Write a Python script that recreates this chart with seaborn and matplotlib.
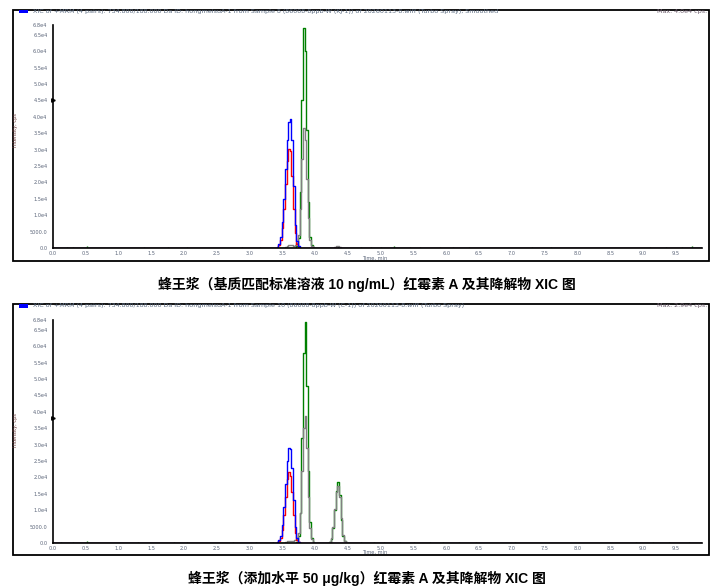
import matplotlib
matplotlib.use("Agg")
import matplotlib.pyplot as plt
from matplotlib.patches import Rectangle
from matplotlib.ticker import FixedLocator, MultipleLocator
import pandas as pd
import seaborn as sns

OUTPUT_FILE = "out.png"
T_END = 9.9
Y_MAX = 68000

X_TICKS = [0.0, 0.5, 1.0, 1.5, 2.0, 2.5, 3.0, 3.5, 4.0, 4.5,
           5.0, 5.5, 6.0, 6.5, 7.0, 7.5, 8.0, 8.5, 9.0, 9.5]
X_TICK_LABELS = ["0.0", "0.5", "1.0", "1.5", "2.0", "2.5", "3.0", "3.5", "4.0", "4.5",
                 "5.0", "5.5", "6.0", "6.5", "7.0", "7.5", "8.0", "8.5", "9.0", "9.5"]
Y_TICKS = [0, 5000, 10000, 15000, 20000, 25000, 30000, 35000, 40000,
           45000, 50000, 55000, 60000, 65000, 68000]
Y_TICK_LABELS = ["0.0", "5000.0", "1.0e4", "1.5e4", "2.0e4", "2.5e4", "3.0e4", "3.5e4",
                 "4.0e4", "4.5e4", "5.0e4", "5.5e4", "6.0e4", "6.5e4", "6.8e4"]

# ---- panel 1: matrix-matched standard 10 ng/mL ----
TOP_BLUE_T = [3.40, 3.425, 3.45, 3.475, 3.50, 3.525, 3.55, 3.575, 3.60, 3.625,
              3.65, 3.675, 3.70, 3.725, 3.75, 3.775, 3.80]
TOP_BLUE_I = [0, 300, 1200, 3500, 8000, 15000, 24000, 33000, 38500, 39400,
              33000, 19000, 7000, 2000, 500, 100, 0]
TOP_RED_T = [3.40, 3.425, 3.45, 3.475, 3.50, 3.525, 3.55, 3.575, 3.60, 3.625,
             3.65, 3.675, 3.70, 3.725, 3.75, 3.775]
TOP_RED_I = [0, 200, 800, 2500, 6000, 12000, 19500, 26500, 30300, 29500,
             22000, 12000, 4500, 1200, 300, 0]
TOP_GREEN_T = [3.70, 3.725, 3.75, 3.775, 3.80, 3.825, 3.85, 3.875, 3.90, 3.925,
               3.95, 3.975, 4.00]
TOP_GREEN_I = [0, 500, 3000, 17000, 45000, 67000, 60000, 36000, 14000, 3500,
               800, 200, 0]
TOP_GRAY_T = [3.525, 3.55, 3.575, 3.60, 3.625, 3.65, 3.675, 3.70, 3.725, 3.75,
              3.775, 3.80, 3.825, 3.85, 3.875, 3.90, 3.925, 3.95, 3.975, 4.00,
              4.275, 4.30, 4.325, 4.35, 4.375, 4.40]
TOP_GRAY_I = [0, 300, 600, 800, 900, 800, 700, 900, 1500, 4000,
              12000, 27000, 36700, 33000, 21000, 9000, 2500, 700, 200, 0,
              0, 300, 600, 500, 200, 0]
TOP_NOISE_T = [0.22, 0.31, 0.52, 1.39, 1.75, 2.05, 2.89, 3.15, 4.35, 4.7, 4.85,
               5.0, 5.2, 5.45, 5.6, 5.9, 6.1, 6.35, 7.3, 7.6, 9.1, 9.35, 9.6, 9.75]
TOP_NOISE_I = [400, 300, 500, 300, 400, 300, 400, 300, 700, 300, 400,
               300, 500, 300, 400, 300, 400, 300, 300, 400, 300, 400, 300, 500]
TOP_MARK_Y = 45000

# ---- panel 2: spiked 50 ug/kg ----
BOT_BLUE_T = [3.40, 3.425, 3.45, 3.475, 3.50, 3.525, 3.55, 3.575, 3.60, 3.625,
              3.65, 3.675, 3.70, 3.725, 3.75, 3.775]
BOT_BLUE_I = [0, 200, 800, 2200, 5500, 11000, 18000, 25000, 29100, 28800,
              23000, 13000, 5000, 1500, 400, 0]
BOT_RED_T = [3.40, 3.425, 3.45, 3.475, 3.50, 3.525, 3.55, 3.575, 3.60, 3.625,
             3.65, 3.675, 3.70, 3.725, 3.75, 3.775]
BOT_RED_I = [0, 100, 500, 1500, 4000, 8500, 14000, 19500, 21500, 20500,
             15500, 8500, 3200, 900, 200, 0]
BOT_GREEN_T = [3.70, 3.725, 3.75, 3.775, 3.80, 3.825, 3.85, 3.875, 3.90, 3.925,
               3.95, 3.975, 4.00,
               4.20, 4.225, 4.25, 4.275, 4.30, 4.325, 4.35, 4.375, 4.40, 4.425,
               4.45, 4.475]
BOT_GREEN_I = [0, 300, 2000, 9000, 32000, 58000, 67300, 48000, 22000, 6500,
               1500, 300, 0,
               0, 200, 1200, 4500, 10000, 16000, 18500, 14500, 7000, 2200,
               500, 0]
BOT_GRAY_T = [3.525, 3.55, 3.60, 3.65, 3.70, 3.725, 3.75, 3.775, 3.80, 3.825,
              3.85, 3.875, 3.90, 3.925, 3.95, 3.975, 4.00,
              4.20, 4.225, 4.25, 4.275, 4.30, 4.325, 4.35, 4.375, 4.40, 4.425,
              4.45, 4.475, 4.50]
BOT_GRAY_I = [0, 200, 500, 700, 800, 1200, 3000, 9000, 22000, 35000,
              38800, 29000, 14000, 4500, 1200, 300, 0,
              0, 300, 1500, 5000, 10500, 15500, 17500, 14000, 7500, 2500,
              600, 100, 0]
BOT_NOISE_T = [0.12, 0.3, 0.52, 1.3, 1.85, 2.05, 2.75, 3.1, 3.35, 4.7, 4.9,
               5.05, 5.3, 5.5, 5.75, 5.95, 6.2, 6.45, 7.05, 8.9, 9.15, 9.4, 9.7]
BOT_NOISE_I = [400, 300, 500, 300, 300, 400, 300, 400, 300, 300, 400,
               300, 400, 300, 300, 400, 300, 300, 300, 300, 400, 300, 400]
BOT_MARK_Y = 38000

COLORS = {"gray": "#808080", "green": "#008000", "red": "#ff0000", "blue": "#0000ff"}
ORDER = ["green", "gray", "red", "blue"]

HEAD_1 = ("XIC of +MRM (4 pairs): 734.800/188.000 Da ID: hongmeisuA-1 from Sample 8 "
          "(86008-8ppb-W (KJ-1)) of 20260113-8.wiff (Turbo Spray), Smoothed")
HEAD_2 = ("XIC of +MRM (4 pairs): 734.800/188.000 Da ID: hongmeisuA-1 from Sample 10 "
          "(86008-8ppb-W (C-1)) of 20260113-8.wiff (Turbo Spray)")
MAX_1 = "Max. 4.0e4 cps."
MAX_2 = "Max. 2.9e4 cps."
CAPTION_1 = "蜂王浆（基质匹配标准溶液 10 ng/mL）红霉素 A 及其降解物 XIC 图"
CAPTION_2 = "蜂王浆（添加水平 50 μg/kg）红霉素 A 及其降解物 XIC 图"


def to_frame(traces):
    rows = []
    for name, ts, vals in traces:
        # flat baseline before and after the peaks
        rows.append((0.0, 0, name))
        rows += [(t, v, name) for t, v in zip(ts, vals)]
        rows.append((T_END, 0, name))
    return pd.DataFrame(rows, columns=["time", "intensity", "trace"])


def draw_panel(ax, df, noise_t, noise_i, mark_y):
    ax.vlines(noise_t, 0, noise_i, color=COLORS["green"], lw=1.0)
    sns.lineplot(data=df, x="time", y="intensity", hue="trace", hue_order=ORDER,
                 palette=COLORS, estimator=None, sort=False, drawstyle="steps-mid",
                 linewidth=1.0, legend=False, ax=ax)
    ax.set_xlim(0, T_END)
    ax.set_ylim(0, Y_MAX)
    ax.xaxis.set_major_locator(FixedLocator(X_TICKS))
    ax.set_xticklabels(X_TICK_LABELS)
    ax.xaxis.set_minor_locator(MultipleLocator(0.1))
    ax.yaxis.set_major_locator(FixedLocator(Y_TICKS))
    ax.set_yticklabels(Y_TICK_LABELS)
    ax.yaxis.set_minor_locator(MultipleLocator(1000))
    ax.tick_params(axis="y", which="major", labelsize=3.6, labelcolor="#5a6478",
                   length=2.5, width=0.8, pad=1.5)
    ax.tick_params(axis="x", which="major", labelsize=3.6, labelcolor="#5a6478",
                   length=1.5, width=0.8, pad=0.6)
    ax.tick_params(axis="y", which="minor", length=1.3, width=0.6)
    ax.tick_params(axis="x", which="minor", length=0.8, width=0.5)
    for side in ["top", "right"]:
        ax.spines[side].set_visible(False)
    for side in ["left", "bottom"]:
        ax.spines[side].set_linewidth(1.2)
        ax.spines[side].set_color("black")
    ax.set_xlabel("")
    ax.set_ylabel("")
    ax.plot([0], [mark_y], marker=">", color="black", markersize=2.5, clip_on=False)


sns.set_theme(style="white")
plt.rcParams["font.family"] = ["DejaVu Sans"]

fig = plt.figure(figsize=(7.21, 5.88), dpi=100)
W, H = 721.0, 588.0

panels = [
    dict(frame=(12.7, 9.5, 709, 261), axes=(53, 25, 702, 248), head_y=11.5,
         head=HEAD_1, mx=MAX_1, cap=CAPTION_1, cap_y=284, time_y=258, ylab_y=130,
         traces=[("gray", TOP_GRAY_T, TOP_GRAY_I), ("green", TOP_GREEN_T, TOP_GREEN_I),
                 ("red", TOP_RED_T, TOP_RED_I), ("blue", TOP_BLUE_T, TOP_BLUE_I)],
         noise=(TOP_NOISE_T, TOP_NOISE_I), mark=TOP_MARK_Y),
    dict(frame=(12.7, 303.5, 709, 555), axes=(53, 320, 702, 543), head_y=306,
         head=HEAD_2, mx=MAX_2, cap=CAPTION_2, cap_y=578, time_y=552, ylab_y=430,
         traces=[("gray", BOT_GRAY_T, BOT_GRAY_I), ("green", BOT_GREEN_T, BOT_GREEN_I),
                 ("red", BOT_RED_T, BOT_RED_I), ("blue", BOT_BLUE_T, BOT_BLUE_I)],
         noise=(BOT_NOISE_T, BOT_NOISE_I), mark=BOT_MARK_Y),
]

for p in panels:
    x0, y0, x1, y1 = p["frame"]
    fig.add_artist(Rectangle((x0 / W, 1 - y1 / H), (x1 - x0) / W, (y1 - y0) / H,
                             transform=fig.transFigure, fill=False, ec="black", lw=1.3))
    fig.add_artist(Rectangle((19 / W, 1 - (p["head_y"] + 1.6) / H), 9 / W, 3.2 / H,
                             transform=fig.transFigure, fc="#0000ff", ec="none"))
    fig.text(33 / W, 1 - p["head_y"] / H, p["head"], fontsize=4.6, color="#5a6a80",
             ha="left", va="center", fontfamily="DejaVu Sans")
    fig.text(707 / W, 1 - p["head_y"] / H, p["mx"], fontsize=4.6, color="#6a5a6a",
             ha="right", va="center", fontfamily="DejaVu Sans")
    ax0, ay0, ax1, ay1 = p["axes"]
    ax = fig.add_axes([ax0 / W, 1 - ay1 / H, (ax1 - ax0) / W, (ay1 - ay0) / H])
    draw_panel(ax, to_frame(p["traces"]), p["noise"][0], p["noise"][1], p["mark"])
    fig.text(15 / W, 1 - p["ylab_y"] / H, "Intensity, cps", fontsize=3.6,
             color="#6a3a3a", rotation=90, ha="center", va="center")
    fig.text(362 / W, 1 - p["time_y"] / H, "Time, min", fontsize=3.6,
             color="#5a6478", ha="left", va="center")
    fig.text(367 / W, 1 - p["cap_y"] / H, p["cap"], fontsize=10, fontweight="bold",
             ha="center", va="center", color="black",
             family=["Liberation Sans", "Noto Sans CJK SC"])

fig.savefig(OUTPUT_FILE, dpi=100)
